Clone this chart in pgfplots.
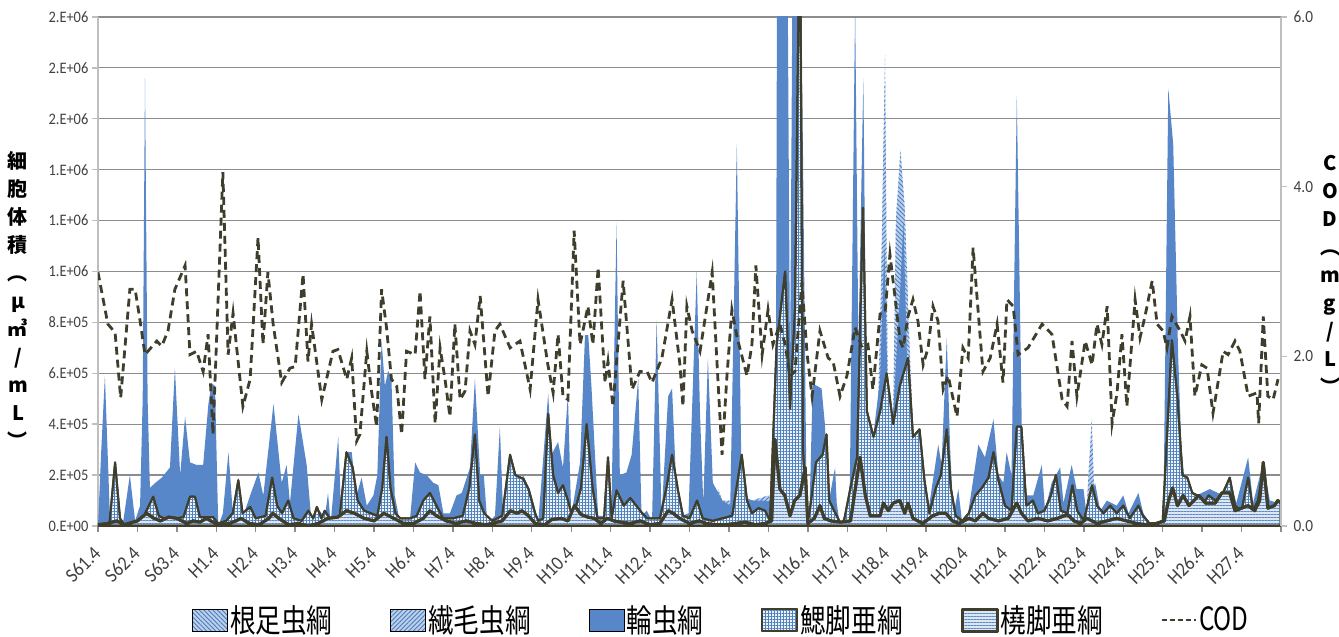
\documentclass[border=0pt]{standalone}
\usepackage{fontspec}
\usepackage{pgfplots}
\pgfplotsset{compat=1.18}
\usetikzlibrary{patterns,patterns.meta}
\setmainfont{Carlito}
\newfontfamily\tickfont{Carlito}[FakeStretch=0.9]
\newfontfamily\cjk{Noto Sans CJK JP}[FakeStretch=0.8]
\newfontfamily\cjkl{Noto Sans CJK JP}
\newfontfamily\codfont{Noto Sans CJK JP}[FakeStretch=0.76]
\definecolor{rotblue}{HTML}{5787C8}
\definecolor{hatchbg}{HTML}{BCD0EA}
\definecolor{hatchfg}{HTML}{4A7CC0}
\definecolor{gridbg}{HTML}{EEF3FA}
\definecolor{gridfg}{HTML}{4F81BD}
\definecolor{copbg}{HTML}{DDE7F3}
\definecolor{copfg}{HTML}{5B8AC6}
\definecolor{olive}{HTML}{3F3D2B}
\definecolor{tickc}{HTML}{404040}
\definecolor{gridc}{HTML}{8C8C8C}
\definecolor{axisc}{HTML}{BFBFBF}
\begin{document}
\begin{tikzpicture}
\useasboundingbox (0,0) rectangle (669.5pt,318.5pt);
\begin{axis}[
  at={(49pt,55.5pt)}, anchor=south west,
  scale only axis, width=591.5pt, height=254.5pt,
  xmin=0, xmax=360, ymin=0, ymax=20,
  axis lines*=left,
  x axis line style={draw=gridc, line width=0.7pt},
  y axis line style={draw=axisc, line width=0.7pt},
  xtick={0,12,...,360},
  xticklabels={S61.4,S62.4,S63.4,H1.4,H2.4,H3.4,H4.4,H5.4,H6.4,H7.4,H8.4,H9.4,H10.4,H11.4,H12.4,H13.4,H14.4,H15.4,H16.4,H17.4,H18.4,H19.4,H20.4,H21.4,H22.4,H23.4,H24.4,H25.4,H26.4,H27.4,{}},
  ytick={0,2,4,6,8,10,12,14,16,18,20},
  yticklabels={0.E+00,2.E+05,4.E+05,6.E+05,8.E+05,1.E+06,1.E+06,1.E+06,2.E+06,2.E+06,2.E+06},
  ymajorgrids, major grid style={draw=gridc, line width=0.6pt},
  tick align=outside, major tick length=2.8pt,
  x tick style={draw=gridc, line width=0.7pt},
  y tick style={draw=axisc, line width=0.7pt},
  yticklabel style={font=\tickfont\fontsize{8}{10}\selectfont, text=tickc, xshift=1.5pt},
  xticklabel style={font=\tickfont\fontsize{10}{11}\selectfont, text=tickc, rotate=45, anchor=east, inner sep=0.5pt},
  xticklabel shift=9pt,
  legend image code/.code={\draw[#1] (0pt,-5.5pt) rectangle (17.5pt,5.5pt);},
  legend style={at={(0.527,-0.185)}, anchor=center, draw=none, fill=none,
    legend columns=6, font=\cjk\fontsize{16}{18}\selectfont,
    /tikz/every even column/.append style={column sep=28pt},
    nodes={inner sep=1pt}},
  legend cell align=left,
]
% 根足虫綱
\addplot[draw=none, preaction={fill=hatchbg}, pattern={Lines[angle=-45,distance=1.6pt,line width=0.45pt]}, pattern color=hatchfg]
coordinates {(0,0) (241.5,0) (242.8,12) (244.2,14.8) (245.5,12.5) (247,7) (248,4) (249,0) (360,0)} \closedcycle;
\addlegendentry{根足虫綱}
% 繊毛虫綱
\addplot[draw=none, preaction={fill=hatchbg}, pattern={Lines[angle=45,distance=1.6pt,line width=0.45pt]}, pattern color=hatchfg]
coordinates {(0,0) (160.8,0) (162.8,3.1) (164,0) (186.5,0) (188.7,1.45) (190,1.0) (199,1.0) (204,1.2) (205.4,0.9) (206,0) (236.5,0) (238.2,9) (239.5,18.5) (240.3,6) (241,0) (300.5,0) (302.4,4.2) (303.5,0) (360,0)} \closedcycle;
\addlegendentry{繊毛虫綱}
% 輪虫綱
\addplot[draw=none, fill=rotblue]
coordinates {(0,0) (1,3) (2.1,5.9) (3.7,0.1) (5,0.3) (7.7,0.2) (9.7,2.0) (11.3,0.2) (12.8,0.8) (13.6,5) (14.3,17.6) (15.1,5) (15.8,1.5) (17.5,1.7) (19.4,1.9) (21.9,2.3) (23.4,6.2) (25,2.0) (26.5,4.3) (28,2.5) (30,2.4) (32,2.4) (33.6,4.8) (34.6,5.6) (35.6,5.5) (36.6,0) (38,0.5) (39.7,2.9) (41.2,0.2) (42.7,1.9) (44.2,0.4) (46.3,1.2) (48.8,2.1) (50.3,1.2) (53.4,4.8) (55.9,1.7) (57.4,2.4) (58.4,0.9) (61,4.4) (63.5,2.4) (65,0.1) (67.5,0.6) (69,0.3) (70,1.3) (70.8,0.1) (73.1,3.5) (74.1,0.2) (75.6,2.9) (77.2,2.9) (78.7,1.2) (80.2,1.9) (81.8,0.8) (83.8,1.2) (85,2.0) (86.3,7.3) (87.3,5.5) (88.3,6.1) (89.3,5.8) (90.3,1.2) (91.8,0.2) (94.9,0.2) (96.5,2.5) (98,2.1) (100,2.0) (102,1.7) (103.6,1.6) (105.1,0.5) (107.1,0.5) (109.1,1.2) (110.7,1.3) (113.2,2.3) (114.7,5.8) (116.3,2.0) (117.4,2.0) (118.5,0.1) (120.8,0.4) (122.3,3.9) (123.3,0.4) (126,1.0) (129.4,2.0) (131.5,1.4) (134,0.2) (137,5.2) (138,2.8) (140,3.3) (141.5,2.3) (143,5.2) (144,0.4) (146.7,2.5) (148.2,7.5) (149.2,7.5) (150.2,5.4) (152.2,0.4) (154.2,0.4) (155.2,2.7) (156.2,0.4) (157.8,11.9) (158.8,2.0) (160.8,2.1) (162.4,2.8) (164.4,5.8) (165.4,0.4) (167,0.6) (168.6,0.2) (170,8.1) (171.5,0.4) (173.5,5.1) (174.7,5.4) (176.2,0.9) (177.7,0.4) (179.7,0.5) (182.2,10.0) (183.2,4.4) (184.2,0.9) (185.6,6.6) (187.1,1.7) (190,1.0) (192.4,0.8) (194.4,15.0) (195.9,1.2) (199,1.0) (201,1.0) (203,1.0) (205.4,0.9) (206.2,0) (206.7,25) (209.7,25) (210.6,6.0) (211.5,25) (213.7,25) (215.7,0) (216.5,0.5) (217.5,5.6) (220.2,5.4) (221.2,4.0) (222.3,0.9) (224.3,2.3) (224.8,0.9) (225.8,0) (227.8,0.6) (228.8,1.7) (230.4,20.5) (231.4,7) (232.9,17.6) (233.9,4.4) (235.9,3.5) (238,5.8) (239.3,11) (240.5,4) (242,4.5) (244,9) (245.1,12.0) (246.6,4.4) (248.5,3.5) (250.2,3.8) (251.2,2.1) (252.7,0.6) (255.7,3.2) (256.7,2.4) (258.3,7.4) (259.3,3.1) (260.3,0.4) (261.8,1.45) (262.9,0.2) (264.3,0.1) (265.9,1.45) (267.9,3.2) (269.9,2.7) (272.5,4.2) (274,2.0) (275.5,1.7) (276.5,2.9) (278,2.0) (279.6,16.9) (281.1,4.0) (282.6,1.2) (284.6,1.2) (287.2,2.4) (288.2,0.6) (290.2,1.7) (292.8,2.3) (293.8,0.9) (296.3,2.4) (297.8,1.45) (299.9,1.45) (300.9,0.4) (303.4,1.7) (305,0.6) (307,1.0) (310,0.8) (312,1.2) (313.6,0.5) (315.1,0.9) (316.6,1.3) (318.1,0.5) (320.2,0.1) (324.2,0.2) (325.7,17.2) (327.2,15.0) (328.7,6.7) (329.7,3.1) (330.7,1.7) (334.3,1.2) (338.3,1.45) (342.4,1.2) (344.4,1.9) (346.4,0.9) (350,2.7) (351.5,0.9) (354.6,2.5) (356.6,1.0) (359.2,0.9) (360,0.9)} \closedcycle;
\addlegendentry{輪虫綱}
% 鰓脚亜綱
\addplot[draw=olive, line width=1pt, line join=round, preaction={fill=gridbg}, pattern={Hatch[angle=0,distance=1.5pt,line width=0.4pt]}, pattern color=gridfg]
coordinates {(0,0) (3.5,0.1) (5.2,2.5) (6.7,0.3) (8,0.05) (12,0.2) (14,0.4) (16.8,1.15) (18.5,0.4) (20,0.3) (24,0.3) (26,0.35) (28,1.15) (29.5,1.15) (31,0.35) (35,0.35) (36.6,0.1) (39,0.2) (41,0.5) (42.7,1.8) (44,0.5) (46.3,0.75) (48,0.3) (51,0.4) (53,1.9) (54.5,0.8) (56,0.5) (57.9,1.0) (59.5,0.3) (62,0.2) (64,0.6) (65.5,0.3) (66.6,0.75) (68,0.3) (69,0.6) (71,0.2) (73.5,0.3) (75.6,2.9) (77.5,2.3) (79,1.0) (81,0.6) (83,0.5) (85,0.4) (86.5,1.5) (87.8,3.5) (89,1.5) (90.5,0.5) (92,0.3) (95,0.3) (97,0.4) (99,1.0) (101,1.3) (103,0.8) (105,0.3) (108,0.3) (111,0.4) (113,1.5) (114.7,3.6) (116,1.0) (117.5,0.5) (120,0.2) (123,0.4) (125.4,2.8) (127,2.0) (129.4,1.85) (131,1.45) (133,0.5) (134,0.2) (135.5,0.3) (137,4.4) (138.5,2.0) (140,1.3) (141.5,1.6) (143,1.0) (144.5,0.3) (147,1.5) (148.7,4.0) (150.5,1.5) (152,0.3) (154,0.3) (155.2,2.7) (156.3,0.3) (157.8,1.4) (160,0.8) (162,1.1) (165,0.6) (167,0.3) (171,0.3) (173,1.5) (174.7,2.8) (176.5,1.4) (178,0.4) (180,0.3) (182.3,1.0) (184,0.3) (187,0.2) (190,0.3) (193,0.4) (195.9,2.8) (197.5,1.0) (199,0.5) (201,0.7) (203,0.6) (204.5,0.2) (206.5,7.1) (209.1,10.0) (210.6,4.6) (212.1,8.5) (213.6,25) (214.5,3.1) (215.7,0) (216.5,0.5) (218.5,2.5) (220.5,2.8) (221.7,3.6) (222.5,1.0) (224,0.6) (226,0.1) (227,0.2) (229,1.5) (231,2.7) (232.8,12.5) (234,4.5) (236,3.5) (238,4.5) (240,6.0) (242,4.0) (244,5.5) (246.5,6.6) (248,3.5) (250,3.8) (251.5,1.8) (253,0.5) (255,1.5) (256.5,2.0) (258.3,3.8) (259.5,1.5) (261,0.4) (263,0.2) (265,0.5) (267,1.2) (269,1.5) (271,1.9) (272.5,2.9) (274,1.8) (276,0.8) (278,0.6) (279.6,3.9) (281,3.9) (282.5,0.8) (284.5,1.0) (286,0.5) (288,0.6) (290,1.2) (291.5,2.0) (293,0.6) (295,0.5) (296.5,1.6) (298,0.6) (300,0.2) (302.5,1.6) (304,0.8) (306,0.5) (308,0.8) (310,0.5) (312,0.8) (314,0.3) (316.6,0.8) (318,0.4) (320,0.1) (322,0.1) (324,0.2) (325.7,4.5) (326.8,7.3) (328.5,5.0) (330,2.0) (331.5,1.9) (333,1.3) (334.5,1.2) (336,0.8) (338,1.2) (340,1.0) (342,1.2) (344.4,1.9) (346,0.8) (348,0.6) (350,1.9) (351.5,0.6) (353,1.0) (354.6,2.2) (356,0.6) (357.5,0.7) (359,0.8) (360,0.8)} \closedcycle;
\addlegendentry{鰓脚亜綱}
% 橈脚亜綱
\addplot[draw=olive, line width=1.5pt, line join=round, preaction={fill=copbg}, pattern={Lines[angle=0,distance=1.5pt,line width=0.45pt]}, pattern color=copfg]
coordinates {(0,0.05) (3,0.1) (5.7,0.2) (8,0.05) (12,0.2) (14.8,0.5) (17,0.3) (19,0.2) (21.5,0.35) (24,0.3) (27,0.1) (29,0.2) (31,0.15) (33,0.3) (35,0.15) (37,0.05) (40,0.1) (42,0.2) (43.5,0.3) (46,0.1) (49,0.05) (52,0.3) (53.2,0.5) (55,0.3) (58,0.05) (61,0.1) (64,0.0) (67,0.1) (70,0.3) (73,0.35) (75.6,0.6) (78,0.5) (81,0.3) (84,0.2) (87,0.5) (90,0.3) (93,0.1) (96,0.1) (99,0.3) (101,0.6) (103,0.4) (106,0.2) (109,0.1) (112,0.2) (115,0.1) (118,0.05) (120,0.1) (123,0.2) (125.5,0.6) (127.5,0.5) (129,0.6) (131,0.4) (133,0.1) (136,0.05) (138,0.25) (141,0.3) (143,0.2) (145,0.8) (147,0.45) (149,0.35) (151,0.3) (153,0.1) (155,0.3) (157,0.2) (159,0.15) (162,0.1) (165,0.2) (168,0.05) (171,0.1) (173.5,0.6) (175,0.5) (177,0.3) (180,0.1) (183,0.2) (185,0.1) (188,0.05) (191,0.05) (194,0.1) (197,0.15) (200,0.05) (203,0.1) (205,0.2) (206,3.4) (207.5,1.45) (209,1.2) (210.6,0.4) (212,1.0) (213.6,1.2) (215.2,2.3) (216,0.1) (218,0.3) (219.7,0.8) (221,0.3) (223,0.2) (226,0.15) (229,0.2) (230.5,1.5) (231.9,2.7) (233.5,1.2) (235,0.4) (238,0.4) (239,0.9) (240.5,0.6) (242,0.9) (244,1.0) (245.5,0.5) (246.5,0.9) (248,0.3) (251,0.1) (254,0.4) (256,0.5) (258,0.5) (260,0.2) (262,0.1) (265,0.3) (267,0.2) (269.3,0.5) (271,0.3) (274,0.2) (277,0.3) (279.6,0.9) (281,0.5) (283,0.2) (286,0.3) (289,0.2) (292,0.3) (295,0.45) (297,0.2) (299,0.1) (301,0.3) (304,0.1) (307,0.2) (310,0.3) (313,0.2) (316,0.1) (319,0.05) (322,0.1) (324.5,0.2) (325.6,0.9) (327,1.5) (328.5,0.8) (330.2,1.2) (332,0.8) (335,1.2) (337,0.9) (340,0.9) (342,1.3) (344.4,1.3) (346,0.6) (348,0.7) (350,0.8) (352,0.6) (353.5,1.0) (354.6,2.5) (356,0.7) (358,0.8) (359,1.0) (360,0.9)} \closedcycle;
\addlegendentry{橈脚亜綱}
\addlegendimage{line legend, draw=olive, line width=1pt, dash pattern=on 2.4pt off 1.6pt}
\addlegendentry{\codfont COD}
\end{axis}
\begin{axis}[
  at={(49pt,55.5pt)}, anchor=south west,
  scale only axis, width=591.5pt, height=254.5pt,
  xmin=0, xmax=360, ymin=0, ymax=6,
  axis x line=none, axis y line*=right,
  y axis line style={draw=axisc, line width=0.7pt},
  ytick={0,2,4,6}, yticklabels={0.0,2.0,4.0,6.0},
  tick align=outside, major tick length=2.8pt,
  y tick style={draw=axisc, line width=0.7pt},
  yticklabel style={font=\tickfont\fontsize{8.5}{10}\selectfont, text=tickc},
]
\addplot[draw=olive, line width=1.4pt, dash pattern=on 4pt off 2.5pt]
coordinates {(0,2.99) (3.0,2.38) (5.2,2.28) (6.9,1.51) (9.7,2.79) (11.3,2.79) (12.8,2.42) (14.3,2.02) (17.9,2.18) (19.4,2.12) (21.3,2.30) (23.4,2.79) (26.5,3.07) (28,2.02) (30,2.06) (32,1.82) (33.5,2.26) (35,1.08) (38,4.17) (39.6,2.02) (41.1,2.51) (42.2,2.10) (44.1,1.41) (46.3,1.73) (48.7,3.40) (50.2,2.14) (51.7,2.99) (53.3,2.38) (55.9,1.69) (58.4,1.86) (60,1.88) (62.4,2.97) (63.9,1.94) (65,2.38) (68.1,1.49) (71.5,2.06) (73,2.08) (75.7,1.73) (77.2,1.98) (78.7,1.00) (79.7,1.08) (81.8,2.06) (83.3,1.57) (84.8,1.17) (86.3,2.79) (87.8,2.34) (89.3,1.73) (90.9,1.65) (92.4,1.08) (93.9,2.06) (96.5,2.02) (98,2.77) (99.5,1.73) (101,2.47) (102.6,1.21) (104.1,2.10) (105.6,1.73) (107.1,1.29) (108.6,2.38) (110.2,1.49) (111.7,1.59) (113.2,2.30) (114.7,2.14) (116.3,2.71) (118.7,1.53) (120.8,2.30) (122.3,2.38) (125.4,2.10) (128.4,2.18) (131.5,1.61) (133.9,2.67) (136.9,1.90) (138.5,1.57) (140,2.26) (141.5,1.53) (143,1.49) (144.9,3.48) (146.7,2.14) (149.1,2.59) (150.6,2.14) (152.2,3.05) (154.3,1.69) (155.2,1.94) (156.7,1.41) (159.8,2.89) (162.5,1.61) (164.9,1.82) (167.1,1.82) (168.6,1.69) (171.6,1.98) (174.7,2.67) (177.1,1.90) (178,1.41) (179.2,2.59) (180.8,2.30) (183.2,2.06) (186.9,2.99) (188.4,1.90) (189.9,0.84) (191.4,1.77) (192.9,2.55) (194.5,2.22) (197.5,1.77) (199,2.14) (200.2,3.07) (202.1,2.02) (203.9,2.55) (205.4,2.14) (207.5,2.38) (209.1,2.14) (210.6,1.77) (212.1,1.82) (214.2,2.87) (215.8,2.02) (217.3,1.53) (219.7,2.30) (222.2,1.98) (223.7,1.94) (225.8,1.53) (227.9,1.77) (230.4,2.34) (232.5,2.10) (234.3,2.14) (235.8,1.61) (238,2.50) (239.5,2.51) (241,3.20) (242.5,2.71) (244.1,2.18) (245,2.10) (246.5,2.47) (248,2.67) (249.5,2.42) (251.1,1.90) (252.6,2.10) (254.1,2.59) (255.6,2.42) (257.2,1.61) (258.7,1.77) (261.4,1.29) (263.2,2.10) (264.8,1.98) (266.3,3.28) (267.8,2.55) (269.3,1.82) (271.5,1.98) (273.6,2.38) (275.4,1.69) (276.6,2.67) (278.5,2.59) (280,2.02) (283,2.10) (287.3,2.38) (290.3,2.26) (293.4,1.49) (294.9,1.41) (296.4,2.18) (297.9,1.53) (300.4,2.18) (302.5,1.90) (304,2.38) (305.5,2.14) (307.1,2.59) (308.6,1.21) (310.1,1.57) (311.6,2.26) (313.1,1.41) (315.6,2.67) (317.1,2.22) (318.6,2.47) (320.8,2.89) (322.3,2.38) (324.1,2.30) (325.3,2.10) (326.8,2.47) (329.3,2.30) (330.8,2.18) (332.3,2.47) (333.8,1.53) (335.9,1.90) (337.5,1.86) (339.3,1.33) (342.4,2.06) (343.9,2.02) (346,2.18) (347.5,2.06) (350,1.53) (352.7,1.57) (353.2,1.21) (354.6,2.47) (356,1.53) (357.6,1.49) (359.1,1.73)};
\end{axis}
\node[font=\cjkl\bfseries\fontsize{10}{14}\selectfont, align=center, inner sep=0pt] at (9pt,168.5pt) {細\\胞\\体\\積\\︵\\μ\\㎥\\/\\m\\L\\︶};
\node[font=\cjkl\bfseries\fontsize{10}{14}\selectfont, align=center, inner sep=0pt] at (665pt,181pt) {C\\O\\D\\︵\\m\\g\\/\\L\\︶};
\end{tikzpicture}
\end{document}
